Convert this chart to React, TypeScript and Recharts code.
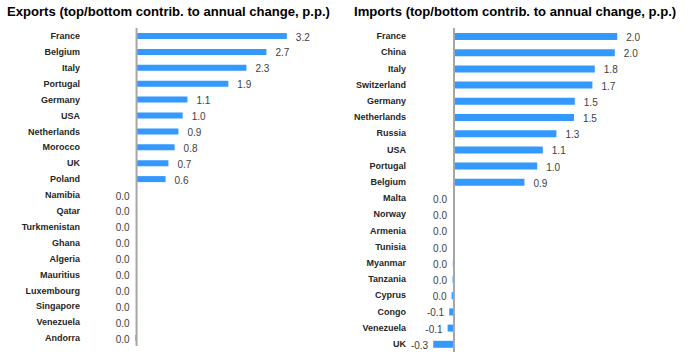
import { BarChart, Bar, XAxis, YAxis, ReferenceLine, LabelList } from 'recharts';

const exportCountries = ['France', 'Belgium', 'Italy', 'Portugal', 'Germany', 'USA', 'Netherlands', 'Morocco', 'UK', 'Poland',
  'Namibia', 'Qatar', 'Turkmenistan', 'Ghana', 'Algeria', 'Mauritius', 'Luxembourg', 'Singapore', 'Venezuela', 'Andorra'];
const exportValues = [3.16, 2.73, 2.31, 1.93, 1.07, 0.97, 0.88, 0.8, 0.67, 0.61,
  -0.002, -0.002, -0.003, -0.003, -0.004, -0.004, -0.005, -0.006, -0.008, -0.025];

const importCountries = ['France', 'China', 'Italy', 'Switzerland', 'Germany', 'Netherlands', 'Russia', 'USA', 'Portugal', 'Belgium',
  'Malta', 'Norway', 'Armenia', 'Tunisia', 'Myanmar', 'Tanzania', 'Cyprus', 'Congo', 'Venezuela', 'UK'];
const importValues = [2.04, 2.01, 1.76, 1.73, 1.51, 1.5, 1.28, 1.11, 1.04, 0.88,
  -0.003, -0.004, -0.005, -0.006, -0.015, -0.018, -0.03, -0.06, -0.08, -0.26];

const BLUE = '#3399ff';
const FONT = '"Liberation Sans", Arial, sans-serif';

const fmt = (v: number) => {
  const r = Math.round(v * 10) / 10;
  return (Math.abs(r) < 0.05 ? 0 : r).toFixed(1);
};

// value label: right of positive bars, left of negative ones
const ValueLabel = (props: any) => {
  const { x, y, width, height, value } = props;
  const left = Math.min(x, x + width);
  const right = Math.max(x, x + width);
  const neg = value < 0;
  return (
    <text
      x={neg ? Math.min(left, x - 2) - 5 : right + 9}
      y={y + height / 2 + 1}
      textAnchor={neg ? 'end' : 'start'}
      dominantBaseline="central"
      fontSize={10}
      fontFamily={FONT}
      fill="#404040"
    >
      {fmt(value)}
    </text>
  );
};

type PanelProps = {
  title: string;
  names: string[];
  values: number[];
  domain: [number, number];
  yWidth: number;
  tickGap: number;
  margin: { top: number; right: number; bottom: number; left: number };
  barSize: number;
  titleLeft: number;
};

const Panel = ({ title, names, values, domain, yWidth, tickGap, margin, barSize, titleLeft }: PanelProps) => {
  const data = names.map((name, i) => ({ name, value: values[i] }));
  return (
    <div style={{ position: 'relative', width: 344, height: 355 }}>
      <div
        style={{
          position: 'absolute', left: titleLeft, top: 4, fontFamily: FONT, fontWeight: 700,
          fontSize: 13.1, color: '#000', whiteSpace: 'nowrap',
        }}
      >
        {title}
      </div>
      <BarChart width={344} height={355} data={data} layout="vertical" margin={margin} barCategoryGap={0}>
        <XAxis type="number" domain={domain} hide allowDataOverflow />
        <YAxis
          type="category"
          dataKey="name"
          width={yWidth}
          axisLine={false}
          tickLine={false}
          tickSize={0}
          tickMargin={tickGap}
          interval={0}
          tick={{ fontSize: 9, fontWeight: 700, fontFamily: FONT, fill: '#262626' }}
        />
        <Bar dataKey="value" fill={BLUE} barSize={barSize} isAnimationActive={false}>
          <LabelList dataKey="value" content={ValueLabel} />
        </Bar>
        <ReferenceLine x={0} stroke="#a6a6a6" strokeWidth={2} />
      </BarChart>
    </div>
  );
};

export default function App() {
  return (
    <div style={{ position: 'absolute', left: 0, top: 0, width: 688, height: 355, background: '#fff', display: 'flex' }}>
      <Panel
        title="Exports (top/bottom contrib. to annual change, p.p.)"
        names={exportCountries}
        values={exportValues}
        domain={[-1, 3.5]}
        yWidth={81}
        tickGap={9}
        margin={{ top: 28, right: 41, bottom: 9, left: 8 }}
        barSize={6}
        titleLeft={7}
      />
      <Panel
        title="Imports (top/bottom contrib. to annual change, p.p.)"
        names={importCountries}
        values={importValues}
        domain={[-0.5, 2.5]}
        yWidth={62}
        tickGap={8}
        margin={{ top: 28, right: 34, bottom: 3, left: 8 }}
        barSize={7}
        titleLeft={10}
      />
    </div>
  );
}
